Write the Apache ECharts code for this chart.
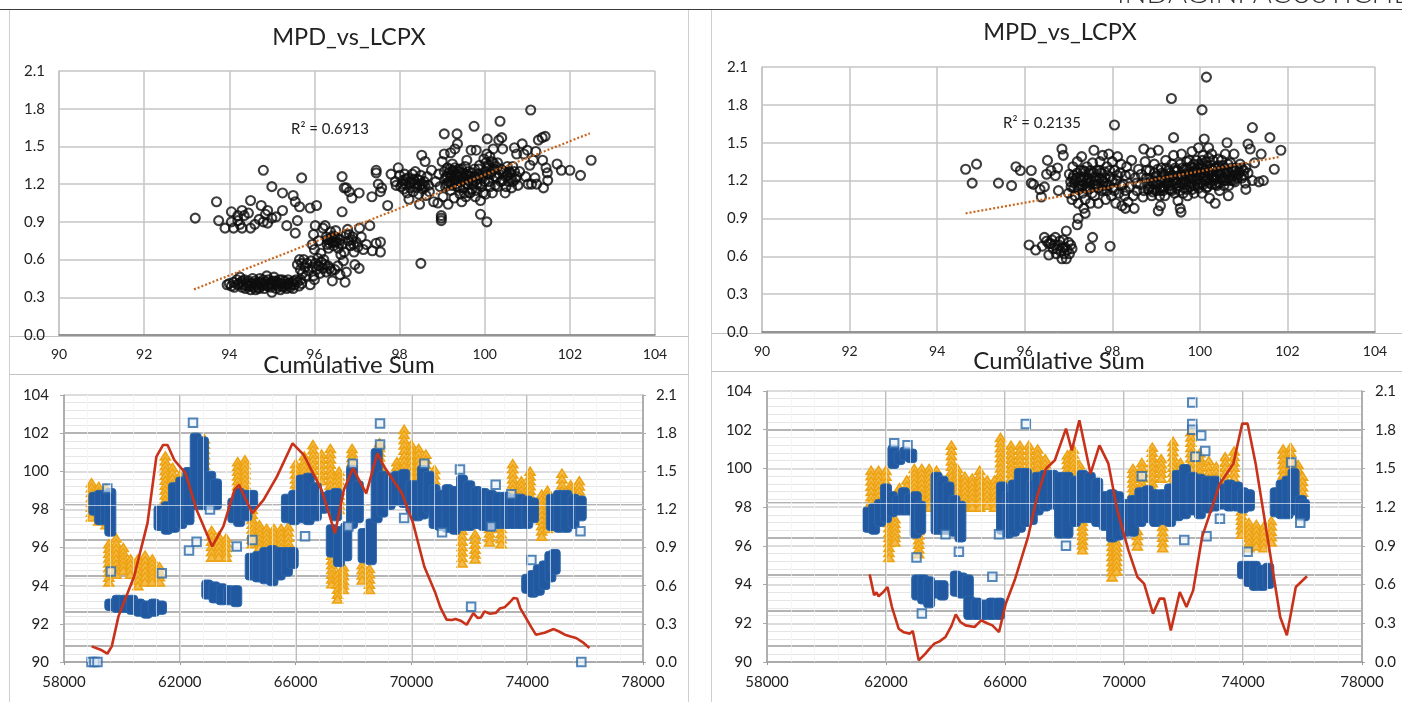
<!DOCTYPE html>
<html><head><meta charset="utf-8">
<style>html,body{margin:0;padding:0;background:#fff;overflow:hidden}#c{width:1402px;height:702px}</style>
<script src="https://cdn.jsdelivr.net/npm/echarts@6/dist/echarts.min.js"></script>
</head><body><div id="c"></div>
<script>
const topTitle='MPD_vs_LCPX', bottomTitle='Cumulative Sum', clippedHeading='INDAGINI ACUSTICHE';
const r2Left='R² = 0.6913', r2Right='R² = 0.2135';
const lcpxTicks=[90,92,94,96,98,100,102,104];
const mpdTicks=[0,0.3,0.6,0.9,1.2,1.5,1.8,2.1];
const trendLeft=[[93.17,0.363],[102.47,1.604]];
const trendRight=[[94.65,0.94],[101.83,1.388]];

const scatterL1=[[93.2,.93],[93.7,1.06],[93.75,.91],[93.9,.85],[94.05,.98],[94.05,.9],[94.1,.85],[94.2,.95],[94.2,.91],[94.25,.88],[94.3,.99],[94.35,.95],[94.3,.85],[94.45,.97],[94.5,1.07],[94.5,.85],[94.6,.88],[94.7,.92],[94.75,1.03],[94.8,1.31],[94.8,.9],[94.85,.96],[94.9,.99],[94.9,.89],[95,.93],[95,1.18],[95.1,.94],[95.25,.99],[95.25,1.13],[95.35,.87],[95.5,1.11],[95.55,1.06],[95.55,.81],[95.6,.91],[95.65,1.02],[95.7,1.25],[95.9,1.01],[96.05,1.03]];
const scatterL2=[[93.95,.4],[94,.41],[94.05,.39],[94.1,.42],[94.12,.38],[94.18,.44],[94.2,.4],[94.25,.46],[94.28,.42],[94.3,.38],[94.33,.4],[94.36,.44],[94.38,.37],[94.42,.41],[94.45,.43],[94.47,.39],[94.5,.36],[94.52,.41],[94.55,.45],[94.57,.38],[94.6,.43],[94.62,.36],[94.65,.4],[94.68,.42],[94.7,.37],[94.72,.45],[94.75,.39],[94.78,.41],[94.8,.44],[94.82,.37],[94.85,.42],[94.88,.47],[94.9,.39],[94.92,.44],[94.95,.41],[94.98,.38],[95,.34],[95.02,.43],[95.05,.46],[95.08,.4],[95.1,.37],[95.12,.42],[95.15,.39],[95.18,.44],[95.2,.36],[95.23,.41],[95.26,.38],[95.3,.43],[95.33,.4],[95.35,.37],[95.38,.44],[95.4,.41],[95.43,.38],[95.47,.42],[95.5,.37],[95.53,.4],[95.57,.44],[95.6,.42],[95.64,.39],[95.68,.44],[95.7,.41],[94.22,.41],[94.31,.43],[94.41,.39],[94.51,.39],[94.59,.41],[94.67,.38],[94.74,.42],[94.83,.4],[94.93,.39],[95.01,.41],[95.09,.43],[95.17,.41],[95.24,.44],[95.29,.39],[95.37,.41],[95.45,.4],[95.52,.43]];
const scatterL3=[[95.6,.56],[95.65,.6],[95.67,.52],[95.7,.57],[95.72,.49],[95.75,.6],[95.78,.54],[95.8,.47],[95.83,.57],[95.86,.51],[95.9,.4],[95.92,.59],[95.95,.54],[95.98,.47],[96,.44],[96.02,.57],[96.05,.52],[96.08,.61],[96.1,.55],[96.13,.49],[96.16,.58],[96.2,.53],[96.22,.6],[96.25,.56],[96.28,.5],[96.32,.55],[96.36,.53],[96.4,.51],[96.42,.43],[96.48,.52],[96.55,.55],[96.6,.48],[96.62,.64],[96.68,.59],[96.72,.42],[96.75,.5],[96.95,.56],[97.05,.53]];
const scatterL4=[[95.95,.72],[96,.68],[95.98,.8],[96.02,.87],[96.1,.75],[96.15,.65],[96.2,.85],[96.25,.87],[96.28,.78],[96.3,.72],[96.33,.69],[96.36,.76],[96.38,.82],[96.42,.74],[96.45,.71],[96.48,.78],[96.5,.83],[96.52,.74],[96.56,.69],[96.6,.76],[96.65,.72],[96.7,.66],[96.75,.8],[96.78,.84],[96.8,.75],[96.85,.71],[96.9,.78],[96.93,.66],[96.98,.74],[97.02,.7],[97.06,.85],[97.1,.78],[97.15,.68],[97.22,.72],[97.3,.87],[97.36,.67],[97.45,.73],[97.55,.74],[97.55,.66],[96.3,.76],[96.35,.73],[96.4,.77],[96.44,.79],[96.47,.74],[96.54,.77],[96.58,.73],[96.82,.8],[96.87,.76],[96.92,.72]];
const scatterL5=[[96.65,.98],[96.65,1.26],[96.7,1.17],[96.75,1.17],[96.82,1.14],[96.88,1.09],[97.05,1.13],[97.35,1.1],[97.45,1.29],[97.45,1.31],[97.5,1.2],[97.55,1.14],[97.58,1.17],[97.72,1.03],[98.5,.57]];
const scatterL6=[[97.8,1.28],[97.9,1.22],[97.92,1.19],[97.97,1.33],[98,1.27],[98.03,1.18],[98.08,1.23],[98.1,1.16],[98.12,1.28],[98.15,1.2],[98.18,1.13],[98.2,1.25],[98.22,1.08],[98.25,1.17],[98.28,1.22],[98.3,1.28],[98.32,1.14],[98.35,1.2],[98.37,1.3],[98.4,1.17],[98.42,1.24],[98.45,1.12],[98.47,1.04],[98.48,1.19],[98.5,1.27],[98.52,1.43],[98.55,1.16],[98.58,1.22],[98.6,1.38],[98.62,1.11],[98.65,1.26],[98.68,1.19],[98.7,1.14],[98.75,1.31],[98.8,1.06],[98.85,1.22],[98.9,1.05],[98.92,1.28],[98.95,1.18],[98.06,1.2],[98.14,1.24],[98.24,1.21],[98.33,1.24],[98.41,1.2],[98.46,1.23],[98.53,1.2],[98.6,1.18]];
const scatterL7=[[98.98,.95],[98.98,.93],[98.98,.91],[99,1.38],[99.02,1.1],[99.05,1.44],[99.05,1.6],[99.08,1.25],[99.1,1.2],[99.12,1.33],[99.14,1.04],[99.16,1.29],[99.18,1.22],[99.2,1.45],[99.2,1.15],[99.22,1.26],[99.24,1.36],[99.26,1.31],[99.28,1.09],[99.3,1.23],[99.3,1.48],[99.32,1.28],[99.34,1.18],[99.35,1.6],[99.36,1.52],[99.38,1.26],[99.4,1.32],[99.42,1.12],[99.44,1.22],[99.46,1.06],[99.48,1.29],[99.5,1.17],[99.52,1.25],[99.54,1.34],[99.56,1.1],[99.58,1.39],[99.6,1.2],[99.62,1.3],[99.64,1.13],[99.66,1.26],[99.68,1.47],[99.7,1.16],[99.72,1.23],[99.75,1.66],[99.76,1.32],[99.78,1.1],[99.8,1.47],[99.82,1.2],[99.85,1.28],[99.88,1.35],[99.9,1.07],[99.9,.96],[99.92,1.18],[99.95,1.25],[99.98,1.4],[100,1.3],[100.02,1.12],[100.05,1.44],[100.05,.9],[100.06,1.56],[100.08,1.35],[100.1,1.22],[100.12,1.42],[100.14,1.28],[100.16,1.38],[100.18,1.13],[100.2,1.48],[100.22,1.32],[100.25,1.19],[100.28,1.25]];
const scatterL8=[[100.3,1.37],[100.33,1.55],[100.36,1.7],[100.38,1.22],[100.4,1.57],[100.42,1.48],[100.45,1.3],[100.48,1.13],[100.5,1.26],[100.53,1.34],[100.56,1.22],[100.6,1.29],[100.63,1.17],[100.66,1.34],[100.7,1.49],[100.72,1.24],[100.75,1.44],[100.78,1.19],[100.82,1.3],[100.88,1.52],[100.92,1.44],[100.96,1.26],[101,1.47],[101.02,1.2],[101.06,1.35],[101.08,1.79],[101.1,1.2],[101.14,1.39],[101.18,1.25],[101.2,1.46],[101.22,1.2],[101.26,1.55],[101.35,1.57],[101.36,1.39],[101.38,1.17],[101.42,1.58],[101.44,1.33],[101.47,1.29],[101.48,1.23],[101.7,1.36],[101.8,1.31],[102,1.31],[102.25,1.27],[102.5,1.39]];
const scatterL9=[[99.05,1.3],[99.08,1.18],[99.12,1.26],[99.15,1.22],[99.18,1.32],[99.2,1.27],[99.22,1.19],[99.25,1.3],[99.27,1.24],[99.3,1.33],[99.32,1.2],[99.35,1.27],[99.37,1.23],[99.4,1.3],[99.42,1.17],[99.44,1.27],[99.46,1.32],[99.5,1.24],[99.52,1.13],[99.55,1.28],[99.58,1.2],[99.6,1.27],[99.63,1.23],[99.66,1.13],[99.7,1.29],[99.73,1.2],[99.76,1.26],[99.8,1.15],[99.83,1.24],[99.86,1.32],[99.9,1.2],[99.93,1.27],[99.96,1.13],[100,1.22],[100.03,1.37],[100.06,1.28],[100.1,1.33],[100.13,1.18],[100.16,1.3],[100.2,1.37],[100.23,1.26],[100.26,1.34],[100.3,1.18],[100.34,1.28],[100.38,1.32],[100.42,1.23],[100.46,1.3],[100.5,1.18],[100.54,1.27],[100.58,1.3],[100.62,1.25],[100.66,1.22],[100.7,1.3],[100.75,1.26]];

const scatterR1=[[94.65,1.29],[94.9,1.33],[94.8,1.18],[95.4,1.18],[95.7,1.16],[95.8,1.31],[95.9,1.28],[96.15,1.28],[96.15,1.18],[96.2,1.17],[96.35,1.13],[96.38,1.07],[96.45,1.15],[96.5,1.25],[96.52,1.36],[96.6,1.28],[96.7,1.24],[96.75,1.3],[96.77,1.12],[96.85,1.45],[96.88,1.4],[98.05,1.64],[99.35,1.85],[100.05,1.76],[100.15,2.02],[99.4,1.54],[100.1,1.53],[101.2,1.62],[101.6,1.54],[101.85,1.44],[101.1,1.49],[101.15,1.45],[101.7,1.29],[101.4,1.41],[101.25,1.34],[101.45,1.2],[101.35,1.19],[101.2,1.2],[101.05,1.13],[100.62,1.5],[100.2,1.46],[100.35,1.02],[100.65,1.08],[99.55,.98],[99.57,.95],[99.05,.96],[99.1,1],[98.5,.98],[98.3,.98]];
const scatterR2=[[96.1,.69],[96.25,.65],[96.4,.68],[96.45,.75],[96.5,.72],[96.55,.61],[96.6,.7],[96.65,.66],[96.7,.75],[96.72,.62],[96.78,.69],[96.82,.64],[96.85,.58],[96.88,.73],[96.92,.67],[96.95,.58],[97,.71],[97.02,.62],[97.08,.66],[96.95,.8],[97.2,.85],[97.22,.9],[97.5,.67],[97.55,.75],[97.95,.68],[97.38,.94],[97.35,.98],[96.55,.7],[96.62,.73],[96.68,.69],[96.74,.66],[96.8,.72],[96.86,.67],[96.9,.62],[96.97,.65],[97.05,.69]];
const scatterR3=[[97,1.1],[97.02,1.25],[97.05,1.19],[97.08,1.05],[97.1,1.31],[97.12,1.14],[97.15,1.08],[97.18,1.22],[97.2,1.35],[97.22,1.02],[97.25,1.16],[97.28,1.28],[97.3,1.39],[97.32,1.1],[97.35,1.23],[97.38,1.05],[97.4,1.18],[97.42,1.31],[97.45,1.13],[97.48,1.26],[97.5,1.02],[97.52,1.2],[97.55,1.34],[97.58,1.44],[97.6,1.08],[97.62,1.16],[97.65,1.28],[97.68,1.02],[97.7,1.22],[97.72,1.35],[97.75,1.12],[97.78,1.4],[97.8,1.19],[97.82,1.27],[97.85,1.05],[97.88,1.31],[97.9,1.16],[97.92,1.41],[97.95,1.23],[97.98,1.08],[98,1.35],[98.02,1.14],[98.05,1.28],[98.08,1.02],[98.1,1.2],[98.12,1.39],[98.15,1.1],[98.18,1.26],[98.2,1.33],[98.22,1],[98.25,1.17],[98.28,1.08],[98.3,1.24],[98.33,1.31],[98.36,1.03],[98.4,1.15],[98.44,1.36],[98.48,1.08],[98.52,1.22],[98.56,1.12],[98.6,1.29],[98.64,1.17],[98.7,1.07],[98.72,1.45],[98.75,1.35],[98.78,1.22],[98.82,1.13]];
const scatterR4=[[98.85,1.28],[98.88,1.42],[98.9,1.08],[98.93,1.18],[98.96,1.33],[99,1.12],[99.02,1.24],[99.05,1.44],[99.08,1.08],[99.1,1.2],[99.12,1.3],[99.15,1.15],[99.18,1.25],[99.2,1.08],[99.22,1.36],[99.25,1.18],[99.28,1.28],[99.3,1.13],[99.33,1.22],[99.36,1.33],[99.4,1.4],[99.42,1.1],[99.45,1.2],[99.48,1.28],[99.5,1.04],[99.52,1.16],[99.55,1.33],[99.58,1.41],[99.6,1.23],[99.62,1.1],[99.65,1.29],[99.68,1.19],[99.7,1.35],[99.72,1.08],[99.75,1.25],[99.78,1.15],[99.8,1.31],[99.82,1.43],[99.85,1.22],[99.87,1.1],[99.9,1.28],[99.92,1.36],[99.95,1.17],[99.97,1.46],[100,1.24],[100.02,1.32],[100.05,1.1],[100.07,1.4],[100.1,1.2],[100.12,1.28],[100.14,1.35],[100.17,1.15],[100.2,1.25],[100.22,1.06],[100.25,1.32],[100.27,1.41],[100.3,1.22],[100.33,1.3],[100.36,1.17],[100.4,1.27],[100.42,1.37],[100.45,1.12],[100.48,1.24],[100.52,1.32],[100.55,1.2],[100.58,1.41],[100.62,1.28],[100.66,1.16],[100.7,1.34],[100.74,1.24],[100.78,1.41],[100.8,1.19],[100.84,1.3],[100.88,1.25],[100.92,1.33],[100.96,1.22],[101,1.28],[101.04,1.18],[101.1,1.26]];
const scatterR5=[[98.8,1.18],[98.84,1.13],[98.88,1.22],[98.92,1.11],[98.96,1.26],[99,1.18],[99.04,1.29],[99.08,1.14],[99.12,1.22],[99.16,1.12],[99.2,1.2],[99.24,1.3],[99.28,1.16],[99.32,1.26],[99.36,1.12],[99.4,1.2],[99.44,1.3],[99.48,1.14],[99.52,1.24],[99.56,1.18],[99.6,1.3],[99.64,1.14],[99.68,1.25],[99.7,1.3],[99.74,1.17],[99.76,1.36],[99.8,1.22],[99.83,1.13],[99.86,1.33],[99.88,1.26],[99.92,1.21],[99.94,1.3],[99.98,1.33],[100.02,1.26],[100.04,1.18],[100.06,1.36],[100.08,1.3],[100.1,1.24],[100.14,1.2],[100.16,1.32],[100.18,1.26],[100.2,1.38],[100.22,1.18],[100.24,1.29],[100.28,1.24],[100.3,1.36],[100.32,1.2],[100.35,1.3],[100.38,1.24],[100.42,1.32],[100.44,1.18],[100.46,1.27],[100.5,1.36],[100.52,1.22],[100.56,1.3],[100.6,1.25],[100.64,1.33],[100.68,1.22],[100.72,1.3],[100.76,1.2],[100.8,1.28],[100.85,1.22],[100.9,1.27],[100.95,1.3],[101,1.24],[101.05,1.3]];
const scatterR6=[[97.06,1.15],[97.1,1.22],[97.14,1.18],[97.2,1.26],[97.24,1.13],[97.3,1.2],[97.34,1.28],[97.38,1.14],[97.44,1.22],[97.48,1.18],[97.54,1.1],[97.58,1.26],[97.64,1.2],[97.68,1.14],[97.74,1.26],[97.78,1.16],[97.84,1.22],[97.88,1.12],[97.94,1.28],[98,1.2],[98.05,1.12],[98.12,1.24],[98.2,1.16],[98.3,1.12],[98.4,1.25],[98.55,1.18],[98.66,1.25],[98.72,1.12],[98.78,1.28]];
const scatterR7=[[97.12,1.24],[97.16,1.2],[97.22,1.14],[97.27,1.23],[97.33,1.16],[97.37,1.27],[97.42,1.2],[97.47,1.15],[97.51,1.28],[97.56,1.17],[97.6,1.23],[97.66,1.17],[97.71,1.28],[97.76,1.21],[97.8,1.13],[97.86,1.18],[98.85,1.15],[98.9,1.2],[98.95,1.13],[99,1.23],[99.05,1.17],[99.1,1.12],[99.14,1.26],[99.2,1.15],[99.26,1.22],[99.3,1.18],[99.34,1.13],[99.38,1.24],[99.42,1.28],[99.46,1.18],[99.5,1.21],[99.54,1.12],[99.58,1.24],[99.62,1.18],[99.66,1.21],[99.7,1.13],[99.73,1.27],[99.77,1.22],[99.8,1.18],[99.84,1.27],[99.88,1.16],[99.91,1.24],[99.95,1.27],[99.97,1.14],[100.01,1.18],[100.04,1.3],[100.08,1.17],[100.12,1.22],[100.15,1.14],[100.19,1.21],[100.23,1.25],[100.27,1.17],[100.3,1.28],[100.35,1.22],[100.39,1.16],[100.43,1.26],[100.47,1.21],[100.51,1.28],[100.55,1.16],[100.6,1.2],[100.65,1.27],[100.7,1.2],[100.75,1.27],[100.82,1.24]];

const timeTicks=[58000,62000,66000,70000,74000,78000];
const leftAxisTicks=[90,92,94,96,98,100,102,104];
const rightAxisTicks=[0,0.3,0.6,0.9,1.2,1.5,1.8,2.1];
const darkRules=[90.83,92.65,94.5,96.4,98.22,102];
const stripesV=[58800,59600,60400,61200,62000,62800,63600,64400,65200,66000,66800,67600,68400,69200,70000,70800,71600,72400,73200,74000,74800,75600,76400,77200];
const stripeH=[98.2];

const blueLeft=[[59050,97.7,98.9],[59250,97.2,99],[59450,97.2,99],[59600,96.6,99.1],[59600,92.7,93.3],[59850,92.6,93.5],[60100,92.6,93.5],[60350,92.5,93.5],[60600,92.4,93.3],[60850,92.3,93.2],[61100,92.4,93.3],[61350,92.5,93.2],[61300,96.9,98.2],[61550,96.7,98.4],[61800,96.8,99.4],[62050,97,99.7],[62300,97.2,100.2],[62550,98,102],[62800,98,101.8],[63050,98,100],[63250,98,99.6],[62950,93.3,94.3],[63200,93.1,94.2],[63450,93,94.1],[63700,93,94],[63950,92.9,94],[63850,97.3,98.6],[64050,97.1,99.1],[64300,97.4,99],[64500,98,99],[64450,94.3,95.7],[64700,94.2,95.8],[64950,94.1,96],[65200,94,96.1],[65450,94.3,96],[65700,94.5,96],[65900,94.9,96],[65700,97.3,98.8],[65950,97.2,99],[66200,97.3,99.8],[66450,97.2,99.9],[66700,97.4,99.4],[66950,97.8,98.9],[67200,97.9,99],[67400,97.4,99.1],[67250,95.5,97.2],[67500,95,97.1],[67750,95.3,97.3],[67950,97,100.3],[68150,97.3,99.5],[68350,95.2,97],[68600,95.1,97.5],[68800,97.3,101.2],[69000,97.6,100],[69250,98,99.9],[69500,98.2,100],[69750,98.1,100.1],[70000,97.8,99.5],[70200,97.4,99.5],[70400,97.5,100.3],[70600,97.8,100],[70800,97,99.3],[71000,96.9,99],[71250,96.8,99.3],[71500,96.7,99.2],[71750,96.9,99.8],[72000,96.9,99.5],[72250,97,99.2],[72500,96.9,99.1],[72750,96.9,99],[73000,97,98.9],[73250,97,98.9],[73500,97,98.8],[73750,97,98.8],[74000,97,98.7],[74200,97.3,98.6],[74000,93.6,94.6],[74200,93.4,94.8],[74400,93.5,95.1],[74600,93.8,95.3],[74800,94.2,95.8],[74950,94.6,95.9],[74850,96.9,98.8],[75100,96.8,99],[75350,96.8,99],[75600,97,98.8],[75850,97.4,98.7]];
const orangeLeft=[[58950,97.6,99.4],[59200,97.4,99.2],[59450,97.2,99.1],[59550,94.2,96.2],[59800,94.6,96.5],[60050,94.8,96],[60300,94.6,95.4],[60550,94,95.4],[60800,94.2,95.6],[61050,94.2,95.4],[61300,94.2,95],[61500,98,100.8],[61750,98.5,100.2],[62000,98.8,99.8],[62600,99.5,101],[62850,99.5,101.7],[63100,95.5,96.9],[63350,95.5,96.6],[63600,95.5,96.5],[64000,99,100.5],[64250,98.8,100.6],[64500,96.2,98],[64750,96,97.2],[65000,96,97],[65250,96,97],[65500,96,97],[65750,96,97.1],[66000,98.8,100.4],[66300,99.5,100.8],[66600,99.8,101.4],[66900,99.5,100.9],[67200,99,101.2],[67500,98,100],[67250,94.1,95.6],[67450,93.3,94.6],[67650,93.8,95],[67950,100,101.2],[68300,94.3,95.1],[68550,93.8,94.9],[68900,100,101.5],[69500,100,100.5],[69750,100,102.2],[70000,99.7,101.4],[70250,99.8,101.2],[70500,99.5,100.9],[70800,99,100.1],[71750,95.2,96.9],[72200,95.4,96.7],[72700,96.3,97],[73100,96.2,97],[73500,98,100.4],[73800,98.3,99.5],[74100,98.5,100],[74500,96.6,98.8],[74700,97,99],[75200,99,99.9],[75500,98.9,99.3],[75800,98.7,99.5]];
const squaresLeft=[[58950,90],[59050,90],[59156,90],[75870,90],[62456,102.55],[68917,102.5],[68917,101.4],[66327,96.6],[72063,92.9],[72911,99.3],[74145,95.35],[62318,95.85],[62580,96.3],[59620,94.75],[63968,96.05],[69750,97.55],[61377,94.66],[71678,100.1],[70444,100.4],[59496,99.1],[67977,100.4],[73451,98.8],[75840,96.85],[71060,96.8],[72757,97.1],[64507,96.4],[67823,97.1],[63042,98]];
const redLeft=[[58956,.123],[59264,.097],[59496,.065],[59650,.123],[59881,.359],[60421,.673],[60884,1.092],[61192,1.616],[61423,1.707],[61577,1.707],[61809,1.589],[62194,1.485],[62580,1.197],[63119,.909],[63505,1.066],[63890,1.354],[64045,1.393],[64507,1.17],[64893,1.275],[65355,1.458],[65895,1.72],[66280,1.629],[66897,1.354],[67360,1.013],[67668,1.354],[67977,1.524],[68440,1.327],[68825,1.642],[69056,1.537],[69673,1.327],[70058,1.092],[70444,.751],[70830,.542],[71000,.43],[71215,.333],[71400,.33],[71523,.338],[71700,.325],[71909,.293],[72140,.385],[72294,.346],[72400,.35],[72526,.398],[72700,.38],[72911,.385],[73050,.42],[73219,.43],[73400,.47],[73528,.503],[73650,.5],[73759,.424],[73990,.333],[74150,.27],[74299,.215],[74600,.23],[74916,.259],[75100,.24],[75301,.215],[75500,.2],[75687,.189],[75950,.15],[76149,.11]];

const blueRight=[[61400,96.7,98],[61600,96.6,98.2],[61800,97,98.4],[62000,97.2,99.2],[62200,97.5,98.8],[62400,97.6,98.6],[62600,97.6,99],[62800,97.6,98.7],[63000,96.4,98.8],[63150,96.6,98.3],[62250,100,101.2],[62450,100.2,100.9],[62650,100.4,101.1],[62850,100.3,101],[63050,93.2,94.5],[63250,93,94.5],[63450,92.8,94.4],[63700,93.3,94.2],[63900,93.2,94.2],[63700,96.6,99.8],[63900,96.6,99.6],[64100,96.6,99.3],[64300,96.5,98.6],[64500,96.2,98.3],[64350,93.4,94.7],[64550,93.3,94.6],[64750,93.3,94.5],[64800,92.2,93.4],[65050,92.2,93.3],[65300,92.2,93.2],[65550,92.2,93.3],[65800,92.2,93.3],[65900,96.6,99.3],[66100,96.4,98.8],[66300,96.5,99.4],[66500,96.7,100],[66700,97,100],[66900,97.1,99.4],[67100,97.6,99.8],[67350,97.8,99.9],[67600,97.9,99.9],[67850,96.4,99.8],[68100,96.4,99.8],[68350,97,99.6],[68600,97.2,99.9],[68850,97.2,99.8],[69100,97,99.5],[69350,96.8,98.8],[69600,96.2,98.9],[69800,96.3,98.8],[70050,96.5,98.4],[70300,96.5,98.6],[70550,97,99],[70800,97.2,99.1],[71050,97,98.9],[71300,97.1,98.9],[71550,97,99.2],[71800,97.3,99.9],[72050,97.4,100.2],[72300,97.6,99.8],[72550,97.4,99.7],[72800,97.7,99.6],[73050,97.8,99.6],[73300,97.9,99.2],[73550,97.8,99.4],[73800,97.8,99.3],[74000,97.7,99],[74200,97.8,98.9],[74000,94.3,95.2],[74200,93.9,95.2],[74400,93.7,95.2],[74650,93.7,95],[74850,93.8,95.1],[75100,97.5,99],[75300,97.4,99.4],[75500,97.4,99.6],[75700,97.6,100],[75950,97.3,98.6],[76050,97.3,98.4]];
const orangeRight=[[61500,98,99.9],[61750,98.3,99.9],[62000,99,99.9],[62100,95.4,97.2],[62300,96.2,97.4],[62450,98,99],[62700,98,99.4],[62950,98,100],[63200,98.2,100],[63450,98,100],[63700,98,99.9],[63100,95.6,96.8],[64200,98.5,101.2],[64400,98.3,100],[64650,98,99.6],[64900,98,99.5],[65150,98,99.9],[65400,98.1,99.4],[65650,98,99.4],[65850,98.2,101.6],[66200,99.5,101.2],[66500,99.9,101.2],[66800,99.6,101.2],[67100,99.2,101],[67350,99.5,100.5],[68100,99.5,100.7],[68300,99.5,101],[68500,99.7,100.2],[68600,95.8,97.5],[69600,94.4,96.5],[69750,94.7,96.2],[70300,98.5,100],[70600,99,100.3],[70950,99,101.1],[71250,99.5,100.5],[71650,99,101.4],[71900,99,100.3],[72250,100,101.9],[72550,99.6,100.8],[72850,99.5,100.4],[73100,99.3,100.1],[73400,99.2,100.6],[73700,99.5,100.9],[73950,96.6,97.8],[74200,95.9,97.2],[74450,96,97.1],[74700,95.9,97],[74950,96.2,97.3],[75350,98.6,101],[75600,99.2,101.1],[75850,98.5,100.2],[76000,98.5,99.6],[70450,96,96.8],[71300,95.9,97]];
const squaresRight=[[62275,101.3],[62725,101.2],[66700,102.3],[72295,103.4],[72295,102.3],[72295,102],[72595,101.7],[72730,100.9],[72025,96.3],[74155,95.7],[64450,95.7],[63025,95.4],[63205,92.5],[65575,94.4],[68050,96],[65800,96.6],[72775,96.5],[73225,97.4],[75925,97.2],[75625,100.3],[70600,99.6],[64000,96.6],[72400,100.6]];
const redRight=[[61450,.679],[61600,.517],[61680,.54],[61750,.509],[61900,.54],[62050,.581],[62200,.426],[62425,.258],[62600,.23],[62800,.22],[62900,.24],[63100,.013],[63325,.065],[63450,.1],[63625,.142],[63800,.16],[64000,.194],[64200,.28],[64345,.369],[64500,.31],[64675,.284],[64975,.271],[65200,.323],[65400,.3],[65575,.284],[65800,.232],[66025,.452],[66325,.633],[66775,.969],[67075,1.279],[67375,1.498],[67675,1.563],[68050,1.808],[68245,1.64],[68500,1.873],[68875,1.459],[69175,1.679],[69475,1.537],[69775,1.175],[70150,.865],[70450,.659],[70675,.607],[70975,.375],[71200,.491],[71350,.491],[71575,.245],[71875,.542],[72100,.426],[72325,.555],[72625,.969],[73225,1.382],[73675,1.537],[73975,1.847],[74155,1.847],[74425,1.537],[74875,.891],[75250,.349],[75475,.207],[75775,.581],[76150,.664]];

const FONT='Lato, "Open Sans", sans-serif';
const GRID='#c4c4c4', TXT='#222', BLUE='#22589f', ORANGE='#eda312', RED='#c8321a';
const chart=echarts.init(document.getElementById('c'),null,{renderer:'canvas'});

function blueItem(params,api){
  const p1=api.coord([api.value(0),api.value(2)]), p2=api.coord([api.value(0),api.value(1)]);
  return {type:'rect',shape:{x:p1[0]-5.5,y:p1[1],width:11,height:p2[1]-p1[1],r:3},style:{fill:BLUE,stroke:'#2a67ab',lineWidth:1}};
}
function orangeItem(params,api){
  const p1=api.coord([api.value(0),api.value(2)]), p2=api.coord([api.value(0),api.value(1)]);
  const kids=[]; const h=p2[1]-p1[1], steps=Math.max(1,Math.round(h/5));
  for(let i=0;i<=steps;i++){
    const y=p1[1]+h*i/steps, x=p1[0];
    kids.push({type:'polygon',shape:{points:[[x,y-4],[x+5,y+4],[x-5,y+4]]},style:{fill:'#f4bb4a',stroke:ORANGE,lineWidth:1.6}});
  }
  return {type:'group',children:kids};
}
const xTop=(i)=>({gridIndex:i,type:'value',min:lcpxTicks[0],max:lcpxTicks[7],interval:2,
  axisLine:{onZero:false,lineStyle:{color:'#808080',width:1.5}},axisTick:{show:false},
  axisLabel:{color:TXT,fontFamily:FONT,fontSize:14,margin:12,showMinLabel:true,showMaxLabel:true},
  splitLine:{show:true,lineStyle:{color:GRID,width:1.5}}});
const yTop=(i)=>({gridIndex:i,type:'value',min:0,max:2.1,interval:0.3,
  axisLine:{show:true,lineStyle:{color:GRID,width:1.5}},axisTick:{show:false},
  axisLabel:{color:TXT,fontFamily:FONT,fontSize:15,margin:14,formatter:v=>v.toFixed(1)},
  splitLine:{show:true,lineStyle:{color:GRID,width:1.5}}});
const xBot=(i)=>({gridIndex:i,type:'value',min:timeTicks[0],max:timeTicks[5],interval:4000,
  axisLine:{onZero:false,lineStyle:{color:'#999',width:1.5}},axisTick:{show:true,length:3,lineStyle:{color:'#999'}},
  minorTick:{show:false,splitNumber:5},minorSplitLine:{show:true,lineStyle:{color:'#e6e6e6',width:1}},
  axisLabel:{color:TXT,fontFamily:FONT,fontSize:15,margin:13,showMinLabel:true,showMaxLabel:true,formatter:v=>String(v)},
  splitLine:{show:true,lineStyle:{color:'#a8a8a8',width:1.5}}});
const yBotL=(i)=>({gridIndex:i,type:'value',min:leftAxisTicks[0],max:leftAxisTicks[7],interval:2,
  axisLine:{show:true,lineStyle:{color:'#aaa',width:1.5}},axisTick:{show:true,length:4,lineStyle:{color:'#aaa'}},
  minorTick:{show:false,splitNumber:5},minorSplitLine:{show:true,lineStyle:{color:'#e6e6e6',width:1}},
  axisLabel:{color:TXT,fontFamily:FONT,fontSize:15,margin:15},
  splitLine:{show:true,lineStyle:{color:'#d0d0d0',width:1.5}}});
const yBotR=(i)=>({gridIndex:i,type:'value',position:'right',min:0,max:2.1,interval:0.3,
  axisLine:{show:true,lineStyle:{color:'#aaa',width:1.5}},axisTick:{show:true,length:3,lineStyle:{color:'#aaa'}},
  axisLabel:{color:TXT,fontFamily:FONT,fontSize:15,margin:13,formatter:v=>v.toFixed(1)},
  splitLine:{show:false}});
const circles=(arrs,i)=>({type:'scatter',xAxisIndex:i,yAxisIndex:i,silent:true,data:[].concat(...arrs),symbol:'circle',symbolSize:9,
  itemStyle:{color:'rgba(255,255,255,0)',borderColor:'#0e0e0e',borderWidth:2.1},z:3});
const trend=(d,i)=>({type:'line',xAxisIndex:i,yAxisIndex:i,silent:true,data:d,symbol:'none',lineStyle:{color:'#c9661e',width:2.2,type:[2,2]},z:4});
const bands=(d,xi,yi,item,extra)=>Object.assign({type:'custom',xAxisIndex:xi,yAxisIndex:yi,silent:true,data:d,renderItem:item,encode:{x:0,y:[1,2]},clip:true},extra);
const squares=(d,xi,yi)=>({type:'scatter',xAxisIndex:xi,yAxisIndex:yi,silent:true,data:d,symbol:'rect',symbolSize:8.5,
  itemStyle:{color:'rgba(235,243,250,.8)',borderColor:'#2a69a9',borderWidth:2},z:5,
  markLine:{silent:true,symbol:'none',z:6,label:{show:false},lineStyle:{color:'rgba(255,255,255,.6)',width:1,type:'solid'},
    data:stripesV.map(v=>({xAxis:v})).concat(stripeH.map(v=>({yAxis:v})))}});
const red=(d,xi,yi)=>({type:'line',xAxisIndex:xi,yAxisIndex:yi,silent:true,data:d,symbol:'none',lineStyle:{color:RED,width:2.6},z:10});
const hRules={silent:true,symbol:'none',z:1,label:{show:false},lineStyle:{color:'#b4b4b4',width:2,type:'solid'},data:darkRules.map(v=>({yAxis:v}))};
const text=(s,x,y,size,extra)=>({type:'text',x,y,silent:true,z:20,style:Object.assign({text:s,fill:'#222',font:size+'px '+FONT,align:'center',verticalAlign:'middle'},extra||{})});
const rule=(x1,y1,x2,y2,c,w)=>({type:'line',silent:true,z:0,shape:{x1,y1,x2,y2},style:{stroke:c,lineWidth:w}});

chart.setOption({
  animation:false,backgroundColor:'#fff',
  grid:[
    {left:59,top:71,width:596,height:264},
    {left:762,top:67,width:613,height:265},
    {left:64,top:395,width:579,height:267},
    {left:767,top:391,width:595,height:271}
  ],
  xAxis:[xTop(0),xTop(1),xBot(2),xBot(3)],
  yAxis:[yTop(0),yTop(1),yBotL(2),yBotR(2),yBotL(3),yBotR(3)],
  series:[
    circles([scatterL1,scatterL2,scatterL3,scatterL4,scatterL5,scatterL6,scatterL7,scatterL8,scatterL9],0),trend(trendLeft,0),
    circles([scatterR1,scatterR2,scatterR3,scatterR4,scatterR5,scatterR6,scatterR7],1),trend(trendRight,1),
    bands(orangeLeft,2,2,orangeItem,{z:3,markLine:hRules}),bands(blueLeft,2,2,blueItem,{z:4}),squares(squaresLeft,2,2),red(redLeft,2,3),
    bands(orangeRight,3,4,orangeItem,{z:3,markLine:hRules}),bands(blueRight,3,4,blueItem,{z:4}),squares(squaresRight,3,4),red(redRight,3,5)
  ],
  graphic:[
    rule(0,9.5,1402,9.5,'#3a3a3a',1.2),
    rule(9.5,10,9.5,702,'#cfcfcf',1),rule(688.5,10,688.5,702,'#cfcfcf',1),rule(711.5,10,711.5,702,'#cfcfcf',1),
    rule(9,336.5,689,336.5,'#c2c2c2',1),rule(9,374.5,689,374.5,'#c2c2c2',1),
    rule(711,333.5,1402,333.5,'#c2c2c2',1),rule(711,371.5,1402,371.5,'#c2c2c2',1),
    text(clippedHeading,1117,8,29,{align:'left',verticalAlign:'bottom',fill:'#333',font:'300 29px '+FONT}),
    text(topTitle,349,37,23.5),text(topTitle,1060,32,23.5),
    text(bottomTitle,349,365,24),text(bottomTitle,1059,361,24),
    text(r2Left,330,129,15),text(r2Right,1042,123,15)
  ]
});
</script></body></html>
